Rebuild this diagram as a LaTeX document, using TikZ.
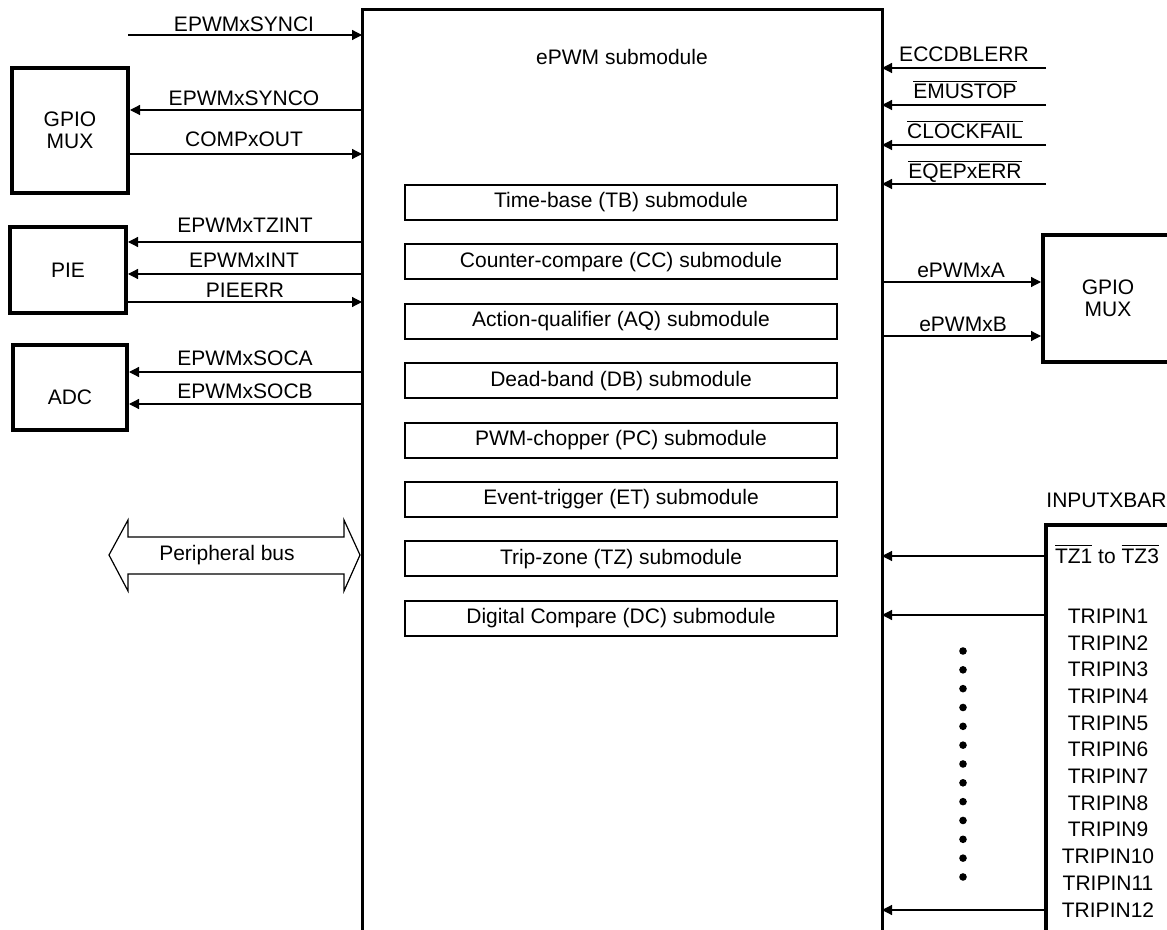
\documentclass[tikz,border=0pt]{standalone}
\usepackage{fontspec}
\setmainfont{Liberation Sans}
\usetikzlibrary{arrows.meta}
\newcommand\ovl[1]{$\overline{\mbox{#1}}$}
\begin{document}
\begin{tikzpicture}[x=0.5pt,y=-0.5pt,
  every node/.style={font=\fontsize{10.5}{11}\selectfont, inner sep=0pt},
  box/.style={draw, line width=2pt, align=center},
  subbox/.style={draw, line width=1pt, minimum width=216pt, minimum height=17.5pt},
  sig/.style={line width=0.6pt, -{Triangle[length=5pt,width=5pt]}},
  lbl/.style={anchor=base}]
\useasboundingbox (0,0) rectangle (1167,930);

% main ePWM block (open at bottom)
\node[minimum width=260pt, minimum height=465pt, anchor=north west, outer sep=0pt] (main) at (362,10) {};
\draw[line width=1.5pt] (main.south west) -- (main.north west) -- (main.north east) -- (main.south east);
\node[lbl] (title) at (622,65) {ePWM submodule};

% submodules
\foreach \i/\t in {0/Time-base (TB) submodule,
                   1/Counter-compare (CC) submodule,
                   2/Action-qualifier (AQ) submodule,
                   3/Dead-band (DB) submodule,
                   4/PWM-chopper (PC) submodule,
                   5/Event-trigger (ET) submodule,
                   6/Trip-zone (TZ) submodule,
                   7/Digital Compare (DC) submodule}
  \node[subbox] (s\i) at (621,{202.5+59.4*\i}) {\t};

% left blocks
\node[box, minimum width=58pt, minimum height=62.5pt] (gmuxL) at (70,130.5) {GPIO\\MUX};
\node[box, minimum width=58pt, minimum height=43pt] (pie) at (68,270) {PIE};
\node[box, minimum width=57pt, minimum height=42.5pt] (adc) at (70,387.5) {};
\node (adct) at (70,397) {ADC};

% left signals
\coordinate (synciS) at (128,35);
\draw[sig] (synciS) -- (main.west |- synciS);
\node[lbl] (l1) at (244,32) {EPWMxSYNCI};
\draw[sig] (main.west |- 0,110) -- (gmuxL.east |- 0,110);
\node[lbl] (l2) at (244,106) {EPWMxSYNCO};
\draw[sig] (gmuxL.east |- 0,154) -- (main.west |- 0,154);
\node[lbl] (l3) at (244,146.5) {COMPxOUT};
\draw[sig] (main.west |- 0,242) -- (pie.east |- 0,242);
\node[lbl] (l4) at (245,233) {EPWMxTZINT};
\draw[sig] (main.west |- 0,274) -- (pie.east |- 0,274);
\node[lbl] (l5) at (244,268) {EPWMxINT};
\draw[sig] (pie.east |- 0,302) -- (main.west |- 0,302);
\node[lbl] (l6) at (245,298) {PIEERR};
\draw[sig] (main.west |- 0,372) -- (adc.east |- 0,372);
\node[lbl] (l7) at (245,366) {EPWMxSOCA};
\draw[sig] (main.west |- 0,404) -- (adc.east |- 0,404);
\node[lbl] (l8) at (245,399) {EPWMxSOCB};

% peripheral bus
\draw[line width=0.6pt] (109,555) -- (128,520) -- (128,537) -- (344,537) -- (344,520)
  -- (360,555) -- (344,591) -- (344,574) -- (128,574) -- (128,591) -- cycle;
\node (pbus) at (227,555) {Peripheral bus};

% right inputs
\coordinate (eccS) at (1046,68);
\coordinate (emuS) at (1046,105);
\coordinate (clkS) at (1046,145);
\coordinate (eqeS) at (1046,184);
\draw[sig] (eccS) -- (main.east |- eccS);
\draw[sig] (emuS) -- (main.east |- emuS);
\draw[sig] (clkS) -- (main.east |- clkS);
\draw[sig] (eqeS) -- (main.east |- eqeS);
\node[lbl] (r1) at (964,62) {ECCDBLERR};
\node[lbl] (r2) at (965,99) {\ovl{EMUSTOP}};
\node[lbl] (r3) at (965,139) {\ovl{CLOCKFAIL}};
\node[lbl] (r4) at (965,179) {\ovl{EQEPxERR}};

% right GPIO MUX
\node[box, minimum width=65pt, minimum height=63.5pt] (gmuxR) at (1108,298.5) {GPIO\\MUX};
\draw[sig] (main.east |- 0,282) -- (gmuxR.west |- 0,282);
\node[lbl] (r5) at (961,278) {ePWMxA};
\draw[sig] (main.east |- 0,336) -- (gmuxR.west |- 0,336);
\node[lbl] (r6) at (963,332) {ePWMxB};

% INPUTXBAR
\node[lbl, anchor=base west] (xbart) at (1046,507) {INPUTXBAR};
\node[draw, line width=2pt, minimum width=80pt, minimum height=220pt, anchor=north west] (xbar) at (1044,523) {};
\draw[sig] (xbar.west |- 0,556) -- (main.east |- 0,556);
\node[lbl] (tz) at (1107,563) {\ovl{TZ1} to \ovl{TZ3}};
\draw[sig] (xbar.west |- 0,615) -- (main.east |- 0,615);
\draw[sig] (xbar.west |- 0,910) -- (main.east |- 0,910);
\foreach \i in {1,...,12}
  \node[lbl] (tp\i) at (1108,{623.3+26.7*(\i-1)}) {TRIPIN\i};
\foreach \k in {0,...,12}
  \fill (963,{651+18.83*\k}) circle (1.9pt);
\end{tikzpicture}
\end{document}
